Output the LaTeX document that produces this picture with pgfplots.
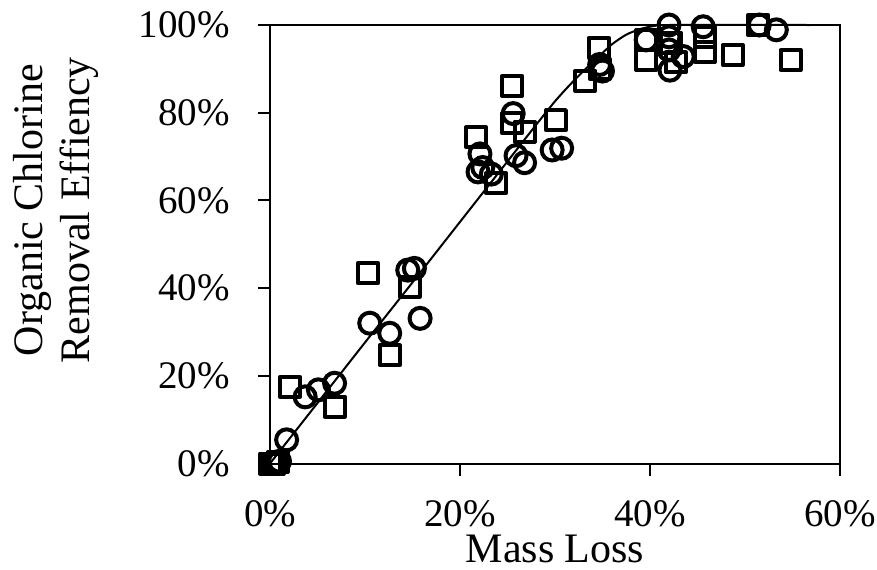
\documentclass[border=0pt]{standalone}
\usepackage{fontspec}
\setmainfont{Liberation Serif}
\usepackage{pgfplots}
\pgfplotsset{compat=1.18}
\begin{document}
\begin{tikzpicture}
\begin{axis}[
  at={(0,0)}, anchor=south west,
  width=285pt, height=219.25pt, scale only axis,
  xmin=0, xmax=60, ymin=0, ymax=100,
  clip=false,
  axis line style={line width=1pt},
  tick style={line width=1pt, black},
  major tick length=6pt,
  tick align=outside,
  xtick pos=bottom, ytick pos=left,
  xtick={0,20,40,60}, xticklabels={0\%,20\%,40\%,60\%},
  ytick={0,20,40,60,80,100}, yticklabels={0\%,20\%,40\%,60\%,80\%,100\%},
  /pgf/number format/assume math mode=true,
  ticklabel style={font=\fontsize{19.5}{22}\selectfont},
  xticklabel style={inner sep=0pt, anchor=north, yshift=-12.25pt},
  yticklabel style={inner sep=0pt, anchor=east, xshift=-14pt},
  xlabel={Mass Loss},
  xlabel style={font=\fontsize{21}{23.5}\selectfont, inner sep=0pt, anchor=north, at={(axis description cs:0.5,-0.162)}},
  ylabel={Organic Chlorine\\Removal Effiency},
  ylabel style={font=\fontsize{21}{23.5}\selectfont, align=center, inner sep=0pt, anchor=north, at={(axis description cs:-0.4509,0.578)}},
]
% squares
\addplot[only marks, mark=square, mark size=5pt, mark options={line width=2pt, line join=round, black, fill=none}] coordinates {
(0,0) (0.4,0) (0.8,0.3)
(2.1,17.5) (6.8,13.0) (10.3,43.4) (12.6,24.7) (14.7,40.3)
(21.7,74.4) (23.8,63.9) (25.5,86.1) (25.5,77.6) (26.8,75.7) (30.1,78.3)
(33.2,87.3) (34.6,94.8) (34.7,90.0)
(39.6,96.6) (39.6,92.0)
(42.2,96.0) (42.7,91.5)
(45.8,97.3) (45.8,93.9)
(48.7,93.2) (51.4,100) (54.8,92.0)
};
% circles
\addplot[only marks, mark=o, mark size=5.25pt, mark options={line width=2pt, black, fill=none}] coordinates {
(0.5,0) (1.0,0.5)
(1.75,5.4) (3.7,15.2) (5.1,16.8) (6.8,18.3)
(10.5,32.0) (12.6,29.7) (14.5,44.1) (15.2,44.5) (15.8,33.1)
(21.9,66.5) (22.4,67.5) (22.1,70.6) (23.3,66.0) (25.9,70.2) (26.8,68.6)
(25.6,79.8) (29.7,71.5) (30.7,71.9)
(34.7,91.0) (35.0,89.5)
(39.6,96.6)
(42.0,100) (42.0,97.3) (42.0,94.3) (42.1,89.7) (43.5,92.8)
(45.6,99.6) (51.5,100) (53.3,98.9)
};
% fitted curve
\addplot[line width=1pt, black, smooth, tension=0.4, mark=none] coordinates {
(0,0) (5,13.8) (10,27.6) (15,41.3) (20,55.1) (25,68.9) (28,77.2) (30,82.6)
(31.5,86.2) (33,89.5) (34.5,92.6) (36,95.6) (37.5,97.8) (39,99.1) (40.5,99.8)
(42,100) (56.8,100)
};
\end{axis}
\pgfresetboundingbox
\path[use as bounding box] (-135pt,-52.75pt) rectangle (303.5pt,231.75pt);
\end{tikzpicture}
\end{document}
